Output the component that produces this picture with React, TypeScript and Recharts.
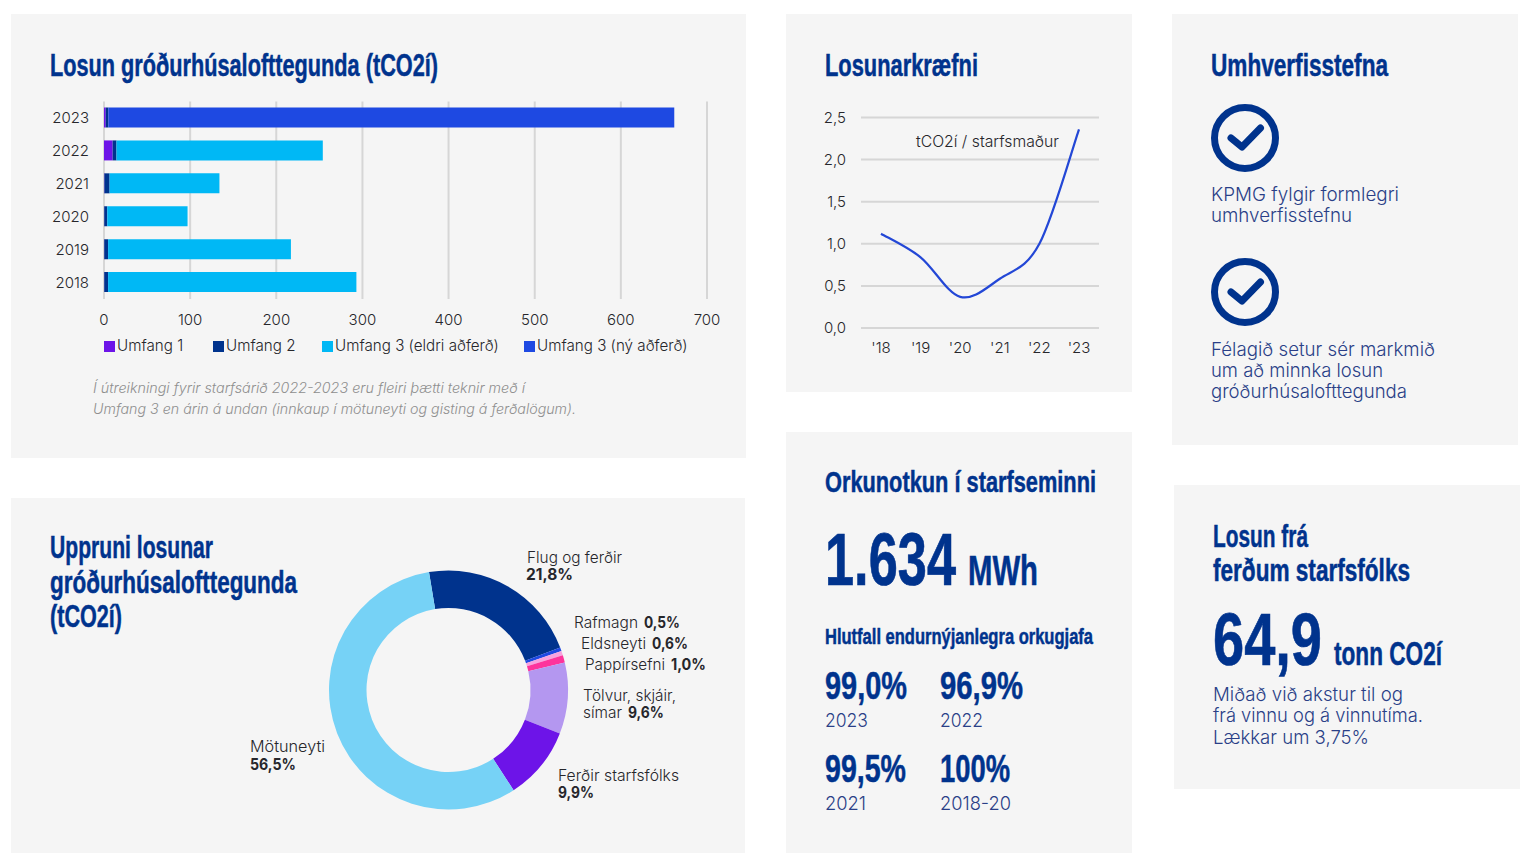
import React from "react";
import { BarChart, Bar, XAxis, YAxis, CartesianGrid, Legend, LineChart, Line, PieChart, Pie, Cell } from "recharts";

const years = ["2023", "2022", "2021", "2020", "2019", "2018"];
const umfang1 = [2, 10, 0.5, 0.3, 0.3, 0.3];
const umfang2 = [3, 4.5, 6, 3.5, 4.5, 4.5];
const umfang3Old = [0, 239.5, 127.5, 93.2, 212.2, 288.2];
const umfang3New = [657, 0, 0, 0, 0, 0];
const xTicks = [0, 100, 200, 300, 400, 500, 600, 700];

const intensityYears = ["'18", "'19", "'20", "'21", "'22", "'23"];
const intensityValues = [1.12, 0.84, 0.37, 0.585, 1.0, 2.36];
const intensityTicks = [0, 0.5, 1, 1.5, 2, 2.5];

const sourceNames = ["Flug og ferðir", "Rafmagn", "Eldsneyti", "Pappírsefni", "Tölvur, skjáir, símar", "Ferðir starfsfólks", "Mötuneyti"];
const sourceValues = [21.8, 0.5, 0.6, 1.0, 9.6, 9.9, 56.5];
const sourceColors = ["#00338d", "#1e49e2", "#f7a3df", "#fd349c", "#b497f0", "#6d14e8", "#76d2f6"];

const barRows = years.map((y, i) => ({ y, a: umfang1[i], b: umfang2[i], c: umfang3Old[i], d: umfang3New[i] }));
const lineRows = intensityYears.map((y, i) => ({ y, v: intensityValues[i] }));
const pieRows = sourceNames.map((name, i) => ({ name, value: sourceValues[i] }));

const NAVY = "#00338d";
const BODY = "#2a3f87";
const INK = "#26262b";
const HEAD = "'Liberation Sans Narrow','Liberation Sans',sans-serif";
const SANS = "Inter,'Noto Sans',sans-serif";

// Catmull-Rom smoothing, the same shape spreadsheet "smoothed lines" give.
const smoothCurve = (ctx: any) => {
  let pts: [number, number][] = [];
  return {
    lineStart() {
      pts = [];
    },
    point(x: number, y: number) {
      pts.push([+x, +y]);
    },
    lineEnd() {
      pts.forEach((p, i) => {
        if (i === 0) {
          ctx.moveTo(p[0], p[1]);
          return;
        }
        const a = pts[i - 1];
        const before = pts[i - 2] || a;
        const after = pts[i + 1] || p;
        ctx.bezierCurveTo(a[0] + (p[0] - before[0]) / 6, a[1] + (p[1] - before[1]) / 6, p[0] - (after[0] - a[0]) / 6, p[1] - (after[1] - a[1]) / 6, p[0], p[1]);
      });
    },
    areaStart() {},
    areaEnd() {},
  };
};

type TP = { x: number; y: number; w: number; s: string; size?: number; head?: boolean; bold?: boolean; color?: string; italic?: boolean; sy?: number };
const T = ({ x, y, w, s, size = 16, head, bold, color = INK, italic, sy = 1 }: TP) => (
  <text
    transform={`translate(${x} ${y}) scale(1 ${sy})`}
    textLength={w}
    lengthAdjust="spacingAndGlyphs"
    fontSize={size}
    fontFamily={head ? HEAD : SANS}
    fontWeight={head || bold ? 700 : 300}
    fontStyle={italic ? "italic" : "normal"}
    fill={color}
    stroke={head ? color : "none"}
    strokeWidth={head ? 0.5 : 0}
  >
    {s}
  </text>
);

const Check = ({ cx, cy }: { cx: number; cy: number }) => (
  <g fill="none" stroke={NAVY} strokeWidth={7}>
    <circle cx={cx} cy={cy} r={30.5} />
    <path d={`M${cx - 14} ${cy} L${cx - 3} ${cy + 9} L${cx + 15.5} ${cy - 10}`} strokeLinecap="round" strokeLinejoin="round" />
  </g>
);

const panels = [
  [11, 14, 735, 444],
  [11, 498, 734, 355],
  [786, 14, 346, 378],
  [786, 432, 346, 421],
  [1172, 14, 346, 431],
  [1174, 485, 346, 304],
];

const legendLeft = [104, 213, 322, 524];
const LegendBox = ({ payload }: any) => (
  <div style={{ position: "relative", height: 20 }}>
    {(payload || []).map((p: any, i: number) => (
      <div key={p.value} style={{ position: "absolute", left: legendLeft[i], top: 0, whiteSpace: "nowrap", fontFamily: SANS, fontWeight: 300, fontSize: 15.2, lineHeight: "20px", color: INK }}>
        <span style={{ display: "inline-block", width: 11, height: 11, background: p.color, marginRight: 2, verticalAlign: "-0.5px" }} />
        {p.value}
      </div>
    ))}
  </div>
);

const tick = { fontFamily: SANS, fontWeight: 300, fontSize: 15, fill: INK };

export default function App() {
  return (
    <div style={{ position: "absolute", left: 0, top: 0, width: 1535, height: 868, background: "#fff", overflow: "hidden" }}>
      {panels.map((p, i) => (
        <div key={i} style={{ position: "absolute", left: p[0], top: p[1], width: p[2], height: p[3], background: "#f5f5f5" }} />
      ))}

      <div style={{ position: "absolute", left: 0, top: 0 }}>
        <BarChart width={760} height={360} data={barRows} layout="vertical" barSize={20} margin={{ top: 101.5, right: 53, bottom: 9, left: 54 }}>
          <CartesianGrid horizontal={false} stroke="#d6d6d6" strokeWidth={2} />
          <XAxis type="number" domain={[0, 700]} ticks={xTicks} axisLine={false} tickLine={false} tickSize={0} tickMargin={15} height={32} tick={tick} interval={0} />
          <YAxis type="category" dataKey="y" width={50} axisLine={false} tickLine={false} tickSize={0} tickMargin={15} tick={tick} />
          <Legend verticalAlign="bottom" height={20} content={<LegendBox />} wrapperStyle={{ left: 0, top: 336, width: 760 }} />
          <Bar dataKey="a" name="Umfang 1" stackId="s" fill="#6d14e8" isAnimationActive={false} />
          <Bar dataKey="b" name="Umfang 2" stackId="s" fill="#00338d" isAnimationActive={false} />
          <Bar dataKey="c" name="Umfang 3 (eldri aðferð)" stackId="s" fill="#00b8f5" isAnimationActive={false} />
          <Bar dataKey="d" name="Umfang 3 (ný aðferð)" stackId="s" fill="#1e49e2" isAnimationActive={false} />
        </BarChart>
      </div>

      <div style={{ position: "absolute", left: 800, top: 90 }}>
        <LineChart width={320} height={280} data={lineRows} margin={{ top: 27.5, right: 21, bottom: 12, left: 0 }}>
          <CartesianGrid vertical={false} stroke="#d6d6d6" strokeWidth={2} />
          <XAxis dataKey="y" padding={{ left: 20, right: 20 }} axisLine={false} tickLine={false} tickSize={0} tickMargin={14} height={30} tick={tick} interval={0} />
          <YAxis type="number" domain={[0, 2.5]} ticks={intensityTicks} width={61} axisLine={false} tickLine={false} tickSize={0} tickMargin={15} tick={tick} tickFormatter={(v: number) => v.toFixed(1).replace(".", ",")} />
          <Line dataKey="v" type={smoothCurve as any} stroke="#2347d6" strokeWidth={2.2} dot={false} isAnimationActive={false} />
        </LineChart>
      </div>

      <div style={{ position: "absolute", left: 300, top: 540 }}>
        <PieChart width={300} height={300}>
          <Pie data={pieRows} dataKey="value" nameKey="name" cx={143.5} cy={145} innerRadius={82} outerRadius={119.5} startAngle={99.4} endAngle={-260.6} stroke="none" isAnimationActive={false}>
            {pieRows.map((r, i) => (
              <Cell key={r.name} fill={sourceColors[i]} />
            ))}
          </Pie>
        </PieChart>
      </div>

      <svg width={1535} height={868} style={{ position: "absolute", left: 0, top: 0, pointerEvents: "none" }}>
        <T head x={50} y={76} w={388} size={32} color={NAVY} s="Losun gróðurhúsalofttegunda (tCO2í)" />
        <T italic x={93} y={393} w={432} size={14} color="#8f8f8f" s="Í útreikningi fyrir starfsárið 2022-2023 eru fleiri þætti teknir með í" />
        <T italic x={93} y={414} w={483} size={14} color="#8f8f8f" s="Umfang 3 en árin á undan (innkaup í mötuneyti og gisting á ferðalögum)." />

        <T head x={50} y={558} w={163} size={32} color={NAVY} s="Uppruni losunar" />
        <T head x={50} y={593} w={247} size={32} color={NAVY} s="gróðurhúsalofttegunda" />
        <T head x={50} y={627} w={72} size={32} color={NAVY} s="(tCO2í)" />

        <T x={527} y={563} w={95} size={15.5} s="Flug og ferðir" />
        <T bold x={526} y={580} w={47} size={15.5} s="21,8%" />
        <T x={574} y={628} w={64} size={15.5} s="Rafmagn" />
        <T bold x={644} y={628} w={36} size={15.5} s="0,5%" />
        <T x={581} y={649} w={65} size={15.5} s="Eldsneyti" />
        <T bold x={652} y={649} w={36} size={15.5} s="0,6%" />
        <T x={585} y={670} w={80} size={15.5} s="Pappírsefni" />
        <T bold x={671} y={670} w={35} size={15.5} s="1,0%" />
        <T x={583} y={701} w={93} size={15.5} s="Tölvur, skjáir," />
        <T x={583} y={718} w={39} size={15.5} s="símar" />
        <T bold x={628} y={718} w={36} size={15.5} s="9,6%" />
        <T x={558} y={781} w={121} size={15.5} s="Ferðir starfsfólks" />
        <T bold x={558} y={798} w={36} size={15.5} s="9,9%" />
        <T x={250} y={752} w={75} size={15.5} s="Mötuneyti" />
        <T bold x={250} y={770} w={46} size={15.5} s="56,5%" />

        <T head x={825} y={76} w={153} size={32} color={NAVY} s="Losunarkræfni" />
        <T x={916} y={147} w={143} size={15.5} s="tCO2í / starfsmaður" />

        <T head x={825} y={492} w={271} size={30} color={NAVY} s="Orkunotkun í starfseminni" />
        <T head x={825} y={585} w={131} size={52} sy={1.43} color={NAVY} s="1.634" />
        <T head x={968} y={585} w={70} size={42} color={NAVY} s="MWh" />
        <T head x={825} y={644} w={268} size={22} color={NAVY} s="Hlutfall endurnýjanlegra orkugjafa" />
        <T head x={825} y={699} w={82} size={39} color={NAVY} s="99,0%" />
        <T head x={940} y={699} w={83} size={39} color={NAVY} s="96,9%" />
        <T x={825} y={727} w={43} size={18.5} color={BODY} s="2023" />
        <T x={940} y={727} w={43} size={18.5} color={BODY} s="2022" />
        <T head x={825} y={782} w={81} size={39} color={NAVY} s="99,5%" />
        <T head x={940} y={782} w={70} size={39} color={NAVY} s="100%" />
        <T x={825} y={810} w={41} size={18.5} color={BODY} s="2021" />
        <T x={940} y={810} w={71} size={18.5} color={BODY} s="2018-20" />

        <T head x={1211} y={76} w={177} size={32} color={NAVY} s="Umhverfisstefna" />
        <Check cx={1245} cy={138} />
        <T x={1211} y={201} w={188} size={18.5} color={BODY} s="KPMG fylgir formlegri" />
        <T x={1211} y={222} w={141} size={18.5} color={BODY} s="umhverfisstefnu" />
        <Check cx={1245} cy={292} />
        <T x={1211} y={356} w={224} size={18.5} color={BODY} s="Félagið setur sér markmið" />
        <T x={1211} y={377} w={172} size={18.5} color={BODY} s="um að minnka losun" />
        <T x={1211} y={398} w={196} size={18.5} color={BODY} s="gróðurhúsalofttegunda" />

        <T head x={1213} y={547} w={95} size={32} color={NAVY} s="Losun frá" />
        <T head x={1213} y={581} w={197} size={32} color={NAVY} s="ferðum starfsfólks" />
        <T head x={1213} y={665} w={109} size={56} sy={1.32} color={NAVY} s="64,9" />
        <T head x={1334} y={665} w={108} size={34} color={NAVY} s="tonn CO2í" />
        <T x={1213} y={701} w={190} size={18.5} color={BODY} s="Miðað við akstur til og" />
        <T x={1213} y={722} w={210} size={18.5} color={BODY} s="frá vinnu og á vinnutíma." />
        <T x={1213} y={744} w={156} size={18.5} color={BODY} s="Lækkar um 3,75%" />
      </svg>
    </div>
  );
}
